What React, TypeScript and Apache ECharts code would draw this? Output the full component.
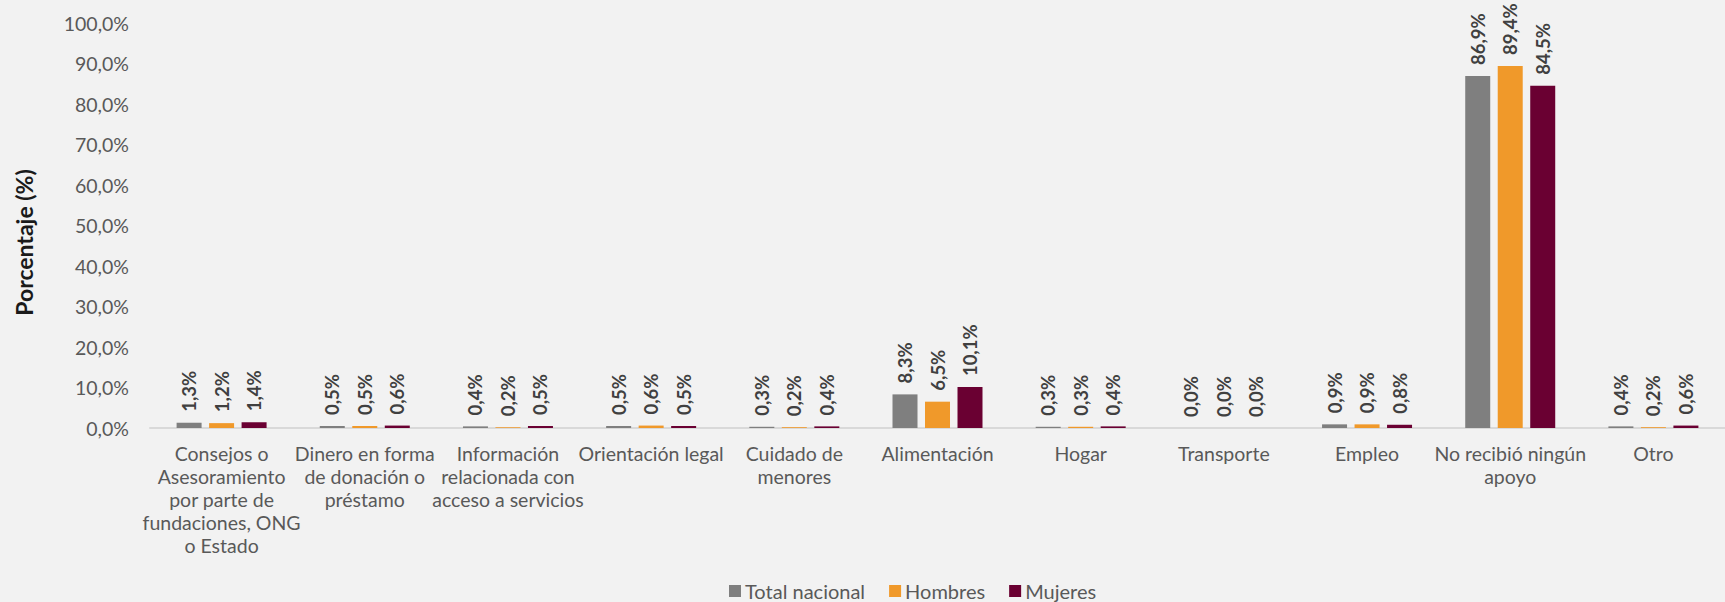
import React, { useEffect, useRef } from "react";
import * as echarts from "echarts";

const categories = [
  "Consejos o\nAsesoramiento\npor parte de\nfundaciones, ONG\no Estado",
  "Dinero en forma\nde donación o\npréstamo",
  "Información\nrelacionada con\nacceso a servicios",
  "Orientación legal",
  "Cuidado de\nmenores",
  "Alimentación",
  "Hogar",
  "Transporte",
  "Empleo",
  "No recibió ningún\napoyo",
  "Otro",
];

const totalNacional = [1.3, 0.5, 0.4, 0.5, 0.3, 8.3, 0.3, 0.0, 0.9, 86.9, 0.4];
const hombres = [1.2, 0.5, 0.2, 0.6, 0.2, 6.5, 0.3, 0.0, 0.9, 89.4, 0.2];
const mujeres = [1.4, 0.6, 0.5, 0.5, 0.4, 10.1, 0.4, 0.0, 0.8, 84.5, 0.6];

const seriesNames = ["Total nacional", "Hombres", "Mujeres"];
const colors = ["#7f7f7f", "#f0992a", "#6a0032"];

const FONT = "Lato, 'Open Sans', sans-serif";
const fmt = (v: number) => v.toFixed(1).replace(".", ",") + "%";

export default function App() {
  const ref = useRef<HTMLDivElement>(null);
  useEffect(() => {
    if (!ref.current) return;
    const chart = echarts.init(ref.current, null, { renderer: "svg" });
    const dataSets = [totalNacional, hombres, mujeres];
    chart.setOption({
      animation: false,
      backgroundColor: "#f2f2f2",
      textStyle: { fontFamily: FONT },
      grid: { left: 150, width: 1585, top: 23, bottom: 174, containLabel: false },
      legend: {
        data: seriesNames,
        left: 724,
        top: 576,
        itemWidth: 12,
        itemHeight: 12,
        itemGap: 24,
        icon: "rect",
        textStyle: { fontFamily: FONT, fontSize: 20, color: "#595959", padding: [0, 0, 0, -1] },
      },
      xAxis: {
        type: "category",
        data: categories,
        axisLine: { lineStyle: { color: "#d9d9d9", width: 2 } },
        axisTick: { show: false },
        axisLabel: {
          interval: 0,
          margin: 14,
          fontFamily: FONT,
          fontSize: 19.5,
          lineHeight: 23,
          color: "#595959",
          align: "center",
        },
      },
      yAxis: {
        type: "value",
        min: 0,
        max: 100,
        interval: 10,
        name: "Porcentaje (%)",
        nameLocation: "middle",
        nameGap: 115,
        nameTextStyle: {
          fontFamily: FONT,
          fontSize: 23,
          fontWeight: "bold",
          color: "#1a1a1a",
          padding: [0, 34, 0, 0],
        },
        splitLine: { show: false },
        axisLine: { show: false },
        axisTick: { show: false },
        axisLabel: {
          margin: 21,
          fontFamily: FONT,
          fontSize: 19.5,
          color: "#595959",
          formatter: (v: number) => fmt(v),
        },
      },
      series: seriesNames.map((name, i) => ({
        name,
        type: "bar",
        data: dataSets[i],
        barWidth: 25,
        barGap: "30%",
        itemStyle: { color: colors[i] },
        label: {
          show: true,
          position: "top",
          rotate: 90,
          align: "left",
          verticalAlign: "middle",
          distance: 11,
          fontFamily: FONT,
          fontSize: 18.5,
          fontWeight: "bold",
          color: "#404040",
          formatter: (p: any) => fmt(p.value),
        },
      })),
    });
    return () => chart.dispose();
  }, []);
  return (
    <div
      ref={ref}
      style={{ position: "fixed", left: 0, top: 0, width: 1725, height: 602 }}
    />
  );
}
